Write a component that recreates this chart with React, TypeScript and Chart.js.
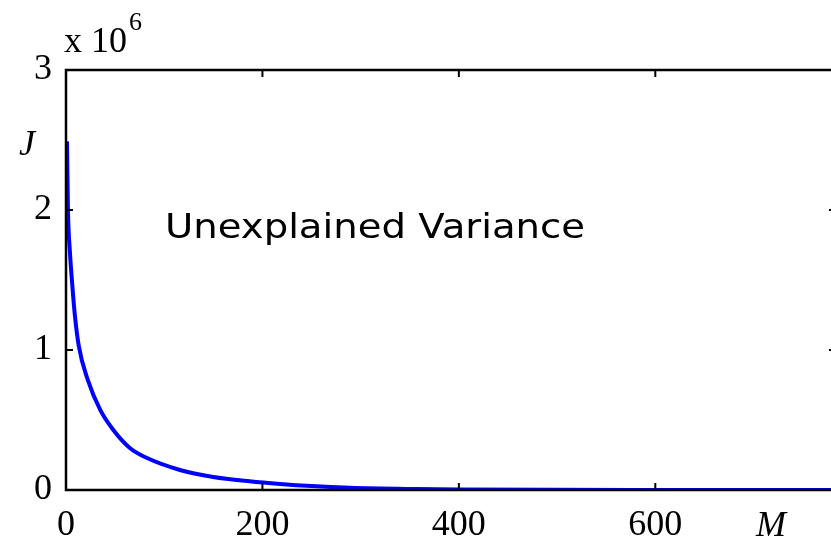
import React, { useEffect, useRef } from "react";
import { Chart, registerables } from "chart.js";

Chart.register(...registerables);

// Number of components M and unexplained variance J (in units of 10^6)
const componentsM = [1, 2, 4, 6, 9, 13, 22, 35, 48, 65, 82, 116, 150, 187, 218, 250, 289, 357, 400, 500, 600, 700, 784];
const varianceJ = [2.49, 2.0, 1.7, 1.5, 1.25, 1.03, 0.79, 0.57, 0.43, 0.3, 0.23, 0.143, 0.093, 0.062, 0.043, 0.028, 0.016, 0.007, 0.004, 0.001, 0.0003, 0.0001, 0];
const xTickValues = [0, 200, 400, 600];
const yTickValues = [0, 1, 2, 3];
const X_MAX = 784;
const Y_MAX = 3;
const annotationText = "Unexplained Variance";
const yAxisName = "J";
const xAxisName = "M";

const SERIF = "'Liberation Serif', 'Times New Roman', serif";

const boxPlugin = {
  id: "matlabBox",
  afterDraw(chart: any) {
    const { ctx, chartArea } = chart;
    const xs = chart.scales.x;
    const ys = chart.scales.y;
    const { left, right, top, bottom } = chartArea;
    ctx.save();
    ctx.strokeStyle = "#000";
    ctx.lineWidth = 2.5;
    ctx.beginPath();
    ctx.rect(left, top, right - left, bottom - top);
    ctx.stroke();
    const tl = 7;
    ctx.lineWidth = 2;
    ctx.beginPath();
    for (const v of xTickValues) {
      const px = xs.getPixelForValue(v);
      ctx.moveTo(px, bottom);
      ctx.lineTo(px, bottom - tl);
      ctx.moveTo(px, top);
      ctx.lineTo(px, top + tl);
    }
    for (const v of yTickValues) {
      const py = ys.getPixelForValue(v);
      ctx.moveTo(left, py);
      ctx.lineTo(left + tl, py);
      ctx.moveTo(right, py);
      ctx.lineTo(right - tl, py);
    }
    ctx.stroke();

    ctx.fillStyle = "#000";
    // exponent label
    ctx.textBaseline = "alphabetic";
    ctx.textAlign = "left";
    ctx.font = `36px ${SERIF}`;
    ctx.fillText("x 10", 64, 52);
    const w = ctx.measureText("x 10").width;
    ctx.font = `26px ${SERIF}`;
    ctx.fillText("6", 64 + w + 2, 30);

    // axis names
    ctx.font = `italic 36px ${SERIF}`;
    ctx.textAlign = "center";
    ctx.fillText(yAxisName, 27, 155);
    ctx.fillText(xAxisName, 771, 536);

    // annotation, fitted to the reference width
    ctx.font = `34px 'DejaVu Sans', sans-serif`;
    ctx.textAlign = "left";
    const aw = ctx.measureText(annotationText).width;
    ctx.translate(165, 238);
    ctx.scale(420 / aw, 1);
    ctx.fillText(annotationText, 0, 0);
    ctx.restore();
  },
};

export default function App() {
  const ref = useRef<HTMLCanvasElement | null>(null);
  useEffect(() => {
    if (!ref.current) return;
    const chart = new Chart(ref.current, {
      type: "line",
      data: {
        datasets: [
          {
            data: componentsM.map((m, i) => ({ x: m, y: varianceJ[i] })),
            borderColor: "#0000ff",
            borderWidth: 4,
            pointRadius: 0,
            cubicInterpolationMode: "monotone",
            fill: false,
          },
        ],
      },
      options: {
        animation: false,
        responsive: false,
        devicePixelRatio: 1,
        layout: { padding: { top: 70, right: 14, left: 0, bottom: 0 } },
        plugins: { legend: { display: false }, tooltip: { enabled: false } },
        scales: {
          x: {
            type: "linear",
            min: 0,
            max: X_MAX,
            grid: { display: false, drawTicks: false },
            border: { display: false },
            afterBuildTicks: (s: any) => {
              s.ticks = xTickValues.map((v) => ({ value: v }));
            },
            afterFit: (s: any) => {
              s.height = 49;
            },
            ticks: {
              color: "#000",
              font: { family: SERIF, size: 36 },
              padding: 14,
              maxRotation: 0,
              autoSkip: false,
              callback: (v: any) => String(v),
            },
          },
          y: {
            min: 0,
            max: Y_MAX,
            grid: { display: false, drawTicks: false },
            border: { display: false },
            afterBuildTicks: (s: any) => {
              s.ticks = yTickValues.map((v) => ({ value: v }));
            },
            afterFit: (s: any) => {
              s.width = 66;
            },
            ticks: {
              color: "#000",
              font: { family: SERIF, size: 36 },
              padding: 14,
              autoSkip: false,
              callback: (v: any) => String(v),
            },
          },
        },
      },
      plugins: [boxPlugin],
    });
    return () => chart.destroy();
  }, []);
  return (
    <div style={{ position: "fixed", left: 0, top: 0, width: 831, height: 539, overflow: "hidden", background: "#fff" }}>
      <canvas ref={ref} width={850} height={539} style={{ display: "block", width: 850, height: 539 }} />
    </div>
  );
}
